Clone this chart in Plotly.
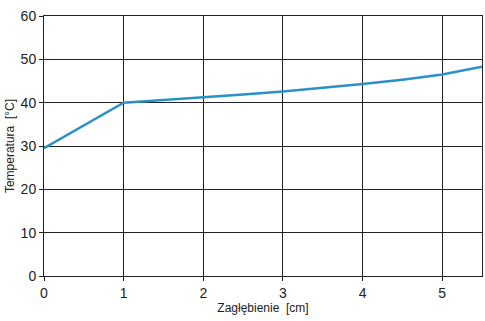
import plotly.graph_objects as go

depth_cm = [0, 1, 1.5, 2, 2.5, 3, 3.5, 4, 4.5, 5, 5.5]
temp_c = [29.5, 40.0, 40.6, 41.2, 41.9, 42.6, 43.4, 44.3, 45.3, 46.5, 48.3]
x_ticks = [0, 1, 2, 3, 4, 5]
y_ticks = [0, 10, 20, 30, 40, 50, 60]

font_family = "Liberation Sans, Arial, sans-serif"

fig = go.Figure()
fig.add_trace(go.Scatter(
    x=depth_cm, y=temp_c, mode="lines",
    line=dict(color="#2b90c6", width=2.5),
    showlegend=False, hoverinfo="skip",
))

fig.update_layout(
    width=485, height=321,
    margin=dict(l=44, r=3, t=16, b=45),
    paper_bgcolor="white", plot_bgcolor="white",
    font=dict(family=font_family, size=13, color="#222"),
)
fig.update_xaxes(
    range=[0, 5.5], tickvals=x_ticks, ticks="outside", ticklen=4,
    tickcolor="#222", showgrid=True, gridcolor="#222", gridwidth=1,
    showline=True, linecolor="#222", linewidth=1, mirror=True,
    zeroline=False, tickfont=dict(size=14),
    title=dict(text="Zagłębienie  [cm]", standoff=0, font=dict(size=12)),
)
fig.update_yaxes(
    range=[0, 60], tickvals=y_ticks, ticks="outside", ticklen=4,
    tickcolor="#222", showgrid=True, gridcolor="#222", gridwidth=1,
    showline=True, linecolor="#222", linewidth=1, mirror=True,
    zeroline=False, tickfont=dict(size=14),
    title=dict(text="Temperatura  [°C]", standoff=3, font=dict(size=12)),
)

fig.write_html("out.html")
